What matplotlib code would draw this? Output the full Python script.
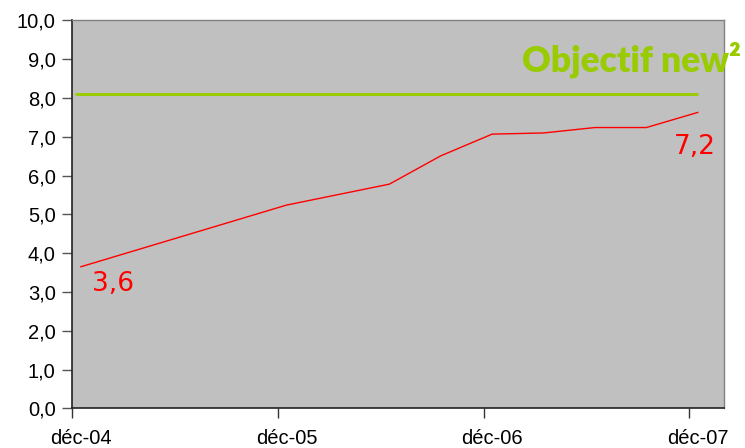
import matplotlib
matplotlib.use("Agg")
import matplotlib.pyplot as plt
from matplotlib.ticker import FixedLocator, NullFormatter, FuncFormatter

# Quarterly survey results (month of measurement) and the target level
months = ["2004-12", "2005-12", "2006-06", "2006-09", "2006-12",
          "2007-03", "2007-06", "2007-09", "2007-12"]
scores = [3.65, 5.24, 5.78, 6.51, 7.07, 7.10, 7.24, 7.24, 7.63]
target = 8.1
target_label = "Objectif new²"
first_label = "3,6"
last_label = "7,2"
year_ticks = ["déc-04", "déc-05", "déc-06", "déc-07"]

ORIGIN = (2004, 12)


def month_index(s):
    y, m = map(int, s.split("-"))
    return (y - ORIGIN[0]) * 12 + (m - ORIGIN[1])


# points sit in the middle of their month, tick marks on month boundaries
x = [month_index(m) + 0.5 for m in months]

fig = plt.figure(figsize=(7.45, 4.48), dpi=100)
ax = fig.add_axes([72.3 / 745, 1 - 408.3 / 448, (723.5 - 72.3) / 745, (408.3 - 20.5) / 448])
ax.set_facecolor("#C0C0C0")

ax.hlines(target, 0.15, x[-1], color="#99CC00", lw=2.1, zorder=2)
ax.plot(x, scores, color="#FF0000", lw=1.0, zorder=3)

ax.set_xlim(0, 38)
ax.set_ylim(0, 10)

major = [i * 12 for i in range(len(year_ticks))]
ax.xaxis.set_major_locator(FixedLocator(major))
ax.xaxis.set_major_formatter(NullFormatter())
ax.xaxis.set_minor_locator(FixedLocator([t + 0.5 for t in major]))
ax.set_xticklabels(year_ticks, minor=True)
ax.tick_params(axis="x", which="minor", length=0, pad=15)
ax.tick_params(axis="x", which="major", length=7, width=1, color="#333333")

ax.set_yticks(range(0, 11))
ax.yaxis.set_major_formatter(FuncFormatter(lambda v, p: f"{v:.1f}".replace(".", ",")))
ax.tick_params(axis="y", length=7, width=1, color="#555555", pad=5)

for lab in ax.get_xticklabels(minor=True) + ax.get_yticklabels():
    lab.set_fontfamily("Liberation Sans")
    lab.set_fontsize(14.5)
    lab.set_color("black")

for side in ("left", "bottom"):
    ax.spines[side].set_color("#222222")
    ax.spines[side].set_linewidth(1.2)
for side in ("top", "right"):
    ax.spines[side].set_color("#808080")
    ax.spines[side].set_linewidth(1.0)

ax.annotate(first_label, (x[0], scores[0]), xytext=(11, -24), textcoords="offset pixels",
            ha="left", va="baseline", color="#FF0000", fontsize=19,
            family="DejaVu Sans", zorder=4)
ax.annotate(last_label, (x[-1], scores[-1]), xytext=(-23.5, -42), textcoords="offset pixels",
            ha="left", va="baseline", color="#FF0000", fontsize=19,
            family="DejaVu Sans", zorder=4)

fig.text(522 / 745, 1 - 71 / 448, target_label, color="#99CC00", fontsize=25.5,
         fontweight="heavy", family="Lato", ha="left", va="baseline")

fig.savefig("out.png", dpi=100, facecolor="white")
